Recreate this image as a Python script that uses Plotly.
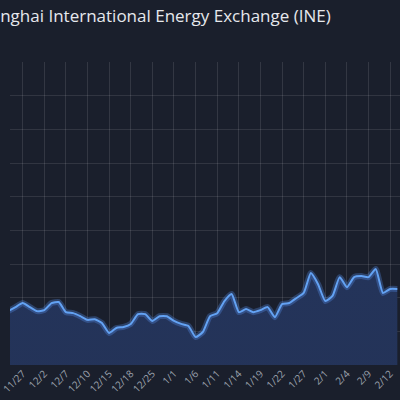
import plotly.graph_objects as go

title_text = "Shanghai International Energy Exchange (INE)"

# trading-day index and prices
day_index = list(range(55))
prices = [496.0, 497.2, 498.4, 497.2, 496.0, 496.3, 498.4, 498.7, 495.7, 495.4,
          494.5, 493.4, 493.6, 492.5, 489.5, 491.0, 491.3, 492.2, 495.1, 495.1,
          493.1, 494.5, 494.5, 493.1, 492.2, 491.6, 488.3, 489.8, 494.5, 495.4,
          499.0, 501.1, 495.7, 496.6, 495.7, 496.3, 497.2, 494.2, 498.1, 498.4,
          499.9, 501.4, 507.3, 504.0, 499.0, 500.5, 506.1, 503.1, 506.1, 506.4,
          506.1, 508.5, 501.4, 502.6, 502.6]

tick_positions = list(range(2, 55, 3))
tick_labels = ["11/27", "12/2", "12/7", "12/10", "12/15", "12/18", "12/25", "1/1", "1/6",
               "1/11", "1/14", "1/19", "1/22", "1/27", "2/1", "2/4", "2/9", "2/12"]

fig = go.Figure()
fig.add_trace(go.Scatter(
    x=day_index, y=prices, mode="lines",
    line=dict(color="rgba(0,0,0,0)", width=0, shape="spline", smoothing=0.5),
    fill="tozeroy",
    fillgradient=dict(type="vertical",
                      colorscale=[[0, "#1e2842"], [1, "#24345a"]]),
    hoverinfo="skip", showlegend=False))
fig.add_trace(go.Scatter(
    x=day_index, y=prices, mode="lines",
    line=dict(color="rgba(90,150,245,0.30)", width=6, shape="spline", smoothing=0.5),
    hoverinfo="skip", showlegend=False))
fig.add_trace(go.Scatter(
    x=day_index, y=prices, mode="lines",
    line=dict(color="#63a2f3", width=2, shape="spline", smoothing=0.5),
    showlegend=False))

fig.add_annotation(text=title_text, xref="paper", yref="paper", x=0.8275, y=1,
                   xanchor="right", yanchor="top", yshift=60, showarrow=False,
                   font=dict(family="Open Sans, Arial, sans-serif", size=17, color="#e6e8ec"))

fig.update_layout(
    width=400, height=400,
    margin=dict(l=0, r=0, t=62, b=35),
    paper_bgcolor="#1a1f2c", plot_bgcolor="#1a1f2c",
    xaxis=dict(range=[0.24, 54.37], tickmode="array", tickvals=tick_positions,
               ticktext=tick_labels, tickangle=-45, showgrid=True,
               gridcolor="rgba(255,255,255,0.11)", gridwidth=1, zeroline=False,
               showline=False, ticks="", ticklabeloverflow="allow",
               tickfont=dict(family="Open Sans, Arial, sans-serif", size=10, color="#9ca2ad")),
    yaxis=dict(range=[480, 570], dtick=10, tick0=480, showgrid=True,
               gridcolor="rgba(255,255,255,0.10)", gridwidth=1, zeroline=False,
               showticklabels=False, showline=False),
)

fig.write_html("out.html", config={"displayModeBar": False},
               post_script="document.body.style.margin='0';document.body.style.background='#1a1f2c';")
